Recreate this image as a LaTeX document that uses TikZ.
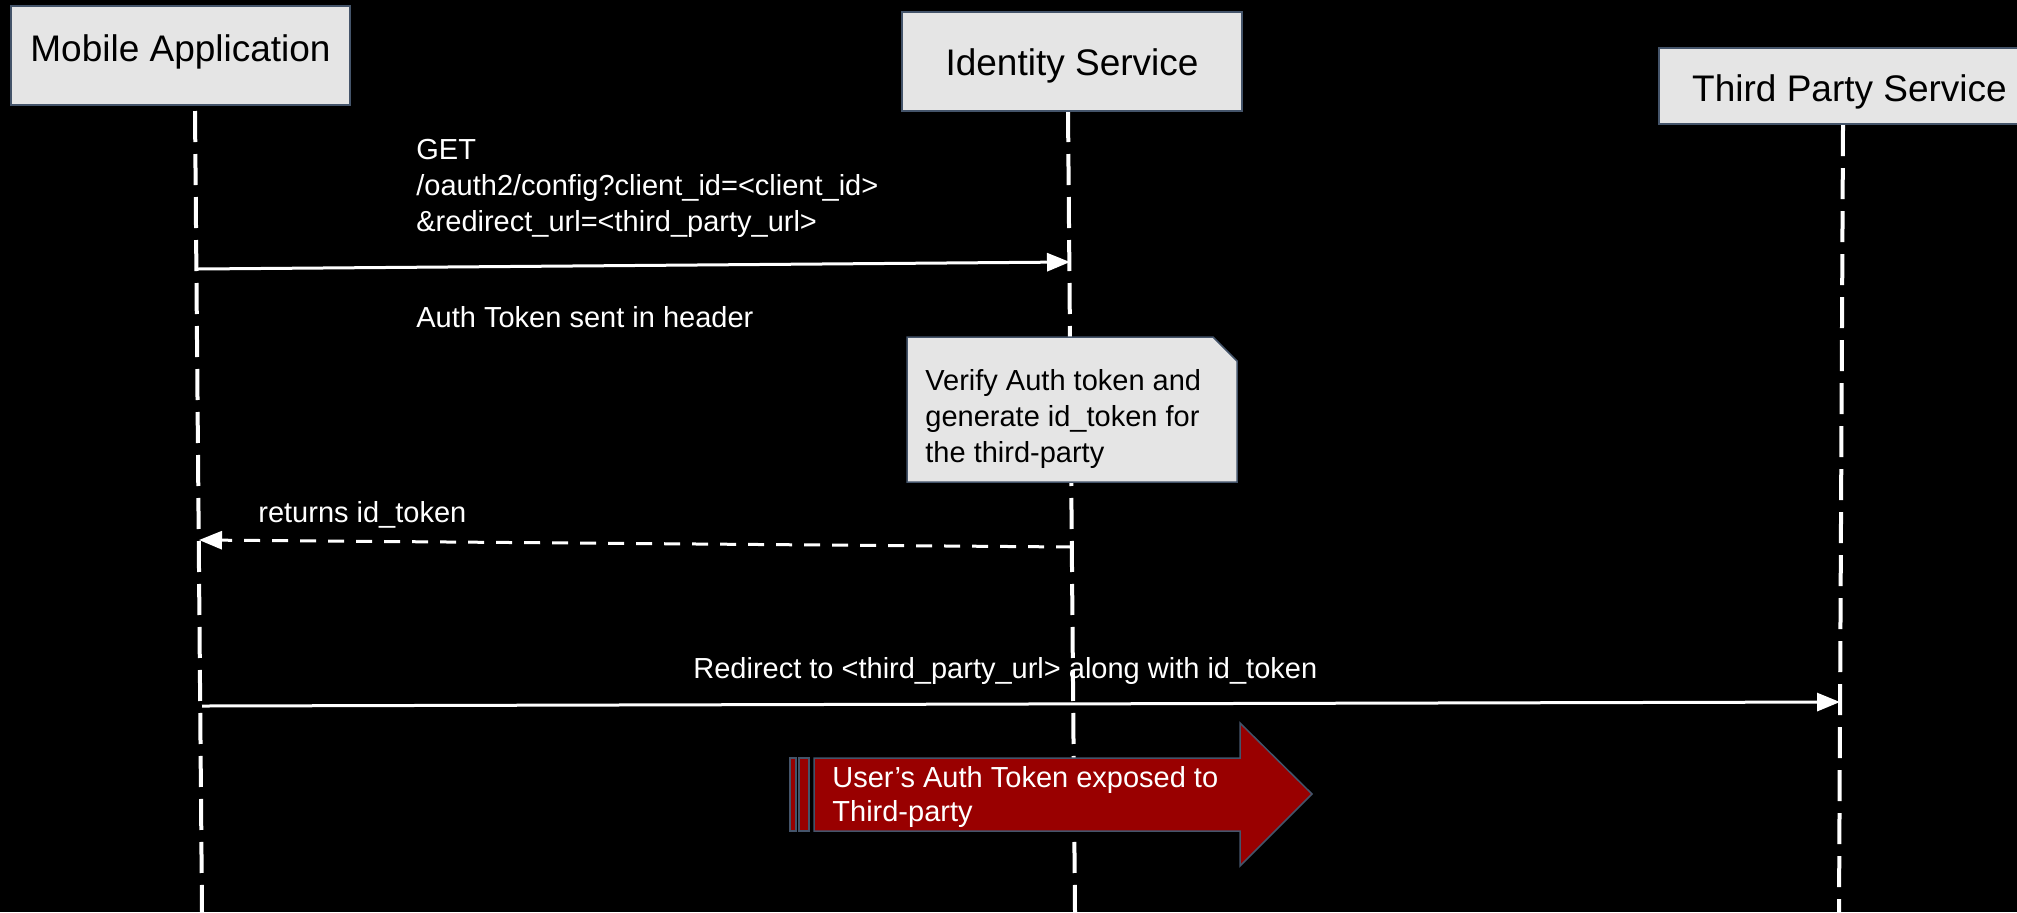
\documentclass[tikz,border=0pt]{standalone}
\usepackage{fontspec}
\setmainfont{Liberation Sans}
\usetikzlibrary{arrows.meta}
\definecolor{boxfill}{RGB}{229,229,229}
\definecolor{boxline}{RGB}{68,84,106}
\definecolor{alertred}{RGB}{153,0,0}
\begin{document}
\begin{tikzpicture}[x=0.5pt,y=-0.5pt,
  actor/.style={draw=boxline, line width=0.75pt, fill=boxfill, inner sep=0pt,
    font=\fontsize{18.5}{22}\selectfont, text=black},
  lifeline/.style={draw=white, line width=2pt, dash pattern=on 15.5pt off 6pt},
  msg/.style={draw=white, line width=1.5pt, -{Triangle[length=11.5pt,width=9pt]}},
  reply/.style={msg, dash pattern=on 8pt off 6pt},
  lbl/.style={inner sep=0pt, font=\fontsize{14.5}{18}\selectfont, text=white, align=left},
  notetext/.style={lbl, text=black},
  notebox/.style={draw=boxline, line width=0.75pt, fill=boxfill},
  alertshape/.style={draw=boxline, line width=0.75pt, fill=alertred}
]
\fill[black] (0,0) rectangle (2017,912);
\useasboundingbox (0,0) rectangle (2017,912);
\clip (0,0) rectangle (2017,912);

% lifeline end points
\coordinate (mTop) at (195,111);
\coordinate (mBot) at (202,912);
\coordinate (iTop) at (1068,111);
\coordinate (iBot) at (1075,912);
\coordinate (tTop) at (1843,125);
\coordinate (tBot) at (1839,912);

\draw[lifeline] (mTop) -- (mBot);
\draw[lifeline] (iTop) -- (iBot);
\draw[lifeline] (tTop) -- (tBot);

% participants
\node[actor, minimum width=169.5pt, minimum height=49.5pt, text height=10pt, text depth=4.5pt]
  (mobile) at (180.5,55.5) {Mobile Application};
\node[actor, minimum width=170pt, minimum height=49.5pt, text height=17pt, text depth=3.5pt]
  (identity) at (1072,61.5) {Identity Service};
\node[actor, minimum width=190.5pt, minimum height=38pt, text height=18pt, text depth=3pt]
  (third) at (1849.5,86) {Third Party Service};

% message end points on lifelines
\coordinate (m1) at (197,269);
\coordinate (i1) at (1070,262);
\coordinate (i2) at (1072,547);
\coordinate (m2) at (199,540);
\coordinate (m3) at (202,706);
\coordinate (t3) at (1840,702);

\draw[msg] (m1) -- (i1);
\node[lbl, anchor=north west] (getlbl) at (416,139)
  {GET\\/oauth2/config?client\_id=<client\_id>\\\&redirect\_url=<third\_party\_url>};
\node[lbl, anchor=base west] (hdrlbl) at (416,327) {Auth Token sent in header};

% note
\draw[notebox] (907,337) -- (1213,337) -- (1237,361) -- (1237,482) -- (907,482) -- cycle;
\node[notetext, anchor=north west] (notelbl) at (925,369)
  {Verify Auth token and\\generate id\_token for\\the third-party};

\draw[reply] (i2) -- (m2);
\node[lbl, anchor=base west] (retlbl) at (258,522) {returns id\_token};

\draw[msg] (m3) -- (t3);
\node[lbl, anchor=base west] (redirlbl) at (693,678)
  {Redirect to <third\_party\_url> along with id\_token};

% alert arrow
\draw[alertshape] (790,758) rectangle (796,831);
\draw[alertshape] (799,758) rectangle (809,831);
\draw[alertshape] (814,758) -- (1240,758) -- (1240,723) -- (1312,794) -- (1240,866)
  -- (1240,831) -- (814,831) -- cycle;
\node[lbl, font=\fontsize{14.5}{17}\selectfont, anchor=north west] (alertlbl) at (832,766)
  {User’s Auth Token exposed to\\Third-party};
\end{tikzpicture}
\end{document}
